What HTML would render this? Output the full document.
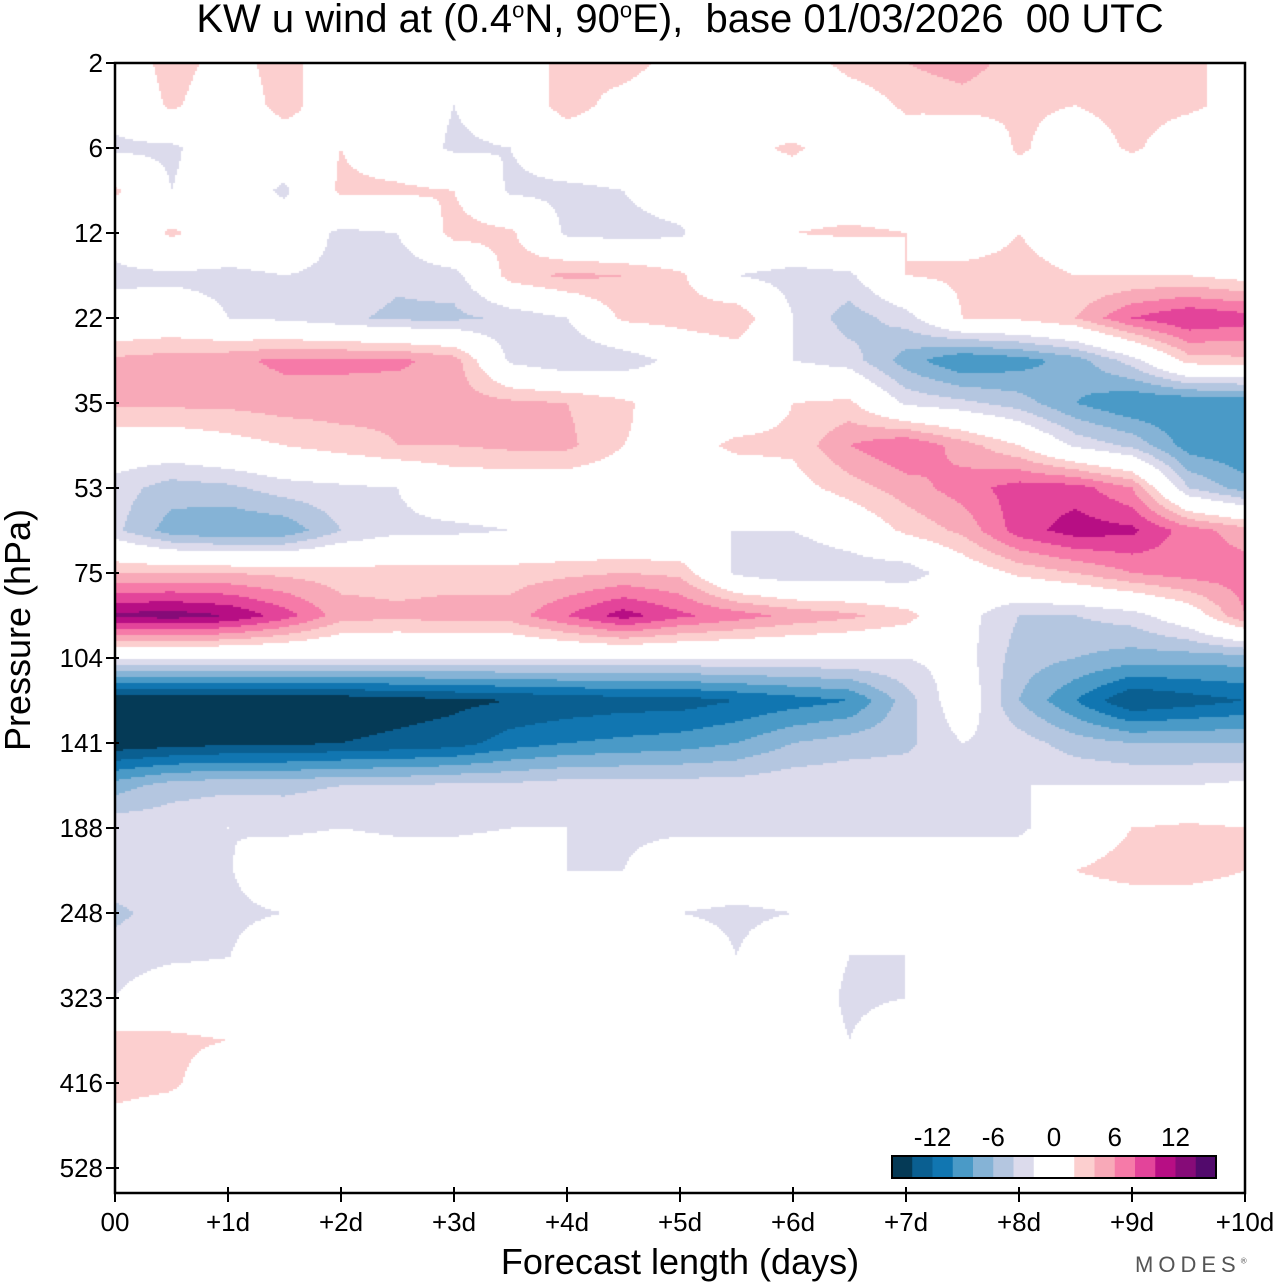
<!DOCTYPE html>
<html><head><meta charset="utf-8">
<style>
body{margin:0;background:#fff;width:1280px;height:1286px;overflow:hidden;position:relative;font-family:"Liberation Sans",sans-serif;}
.t{position:absolute;white-space:nowrap;color:#000;}
</style></head>
<body>
<div class="t" style="left:0;width:1360px;text-align:center;top:-3px;font-size:40px;">KW u wind at (0.4<sup style="font-size:22px">o</sup>N, 90<sup style="font-size:22px">o</sup>E),&nbsp; base 01/03/2026&nbsp; 00 UTC</div>
<canvas id="cv" width="1130" height="1130" style="position:absolute;left:115px;top:63px;"></canvas>
<svg id="ov" width="1280" height="1286" style="position:absolute;left:0;top:0"></svg>
<div class="t" style="left:18px;top:630px;font-size:36px;transform:translate(-50%,-50%) rotate(-90deg);">Pressure (hPa)</div>
<div class="t" style="left:680px;top:1262px;font-size:36px;transform:translate(-50%,-50%);">Forecast length (days)</div>
<div class="t" style="left:1135px;top:1252px;font-size:22px;letter-spacing:5px;color:#555;">MODES<sup style="font-size:8px">®</sup></div>
<script>
const timeLabels=["00","+1d","+2d","+3d","+4d","+5d","+6d","+7d","+8d","+9d","+10d"];
const pressureLabels=["2","6","12","22","35","53","75","104","141","188","248","323","416","528"];
const levels=[-16,-14,-12,-10,-8,-6,-4,-2,2,4,6,8,10,12,14,16];
const colors=["#053a56","#0a5f91","#1176b1","#4a9ac7","#85b3d6","#b4c6e0","#dcdbec","#ffffff","#fccfcf","#f8a9b8","#f67aa8","#e3449a","#b70e84","#860b78","#520a6c"];
const cbarLabels=["-12","-6","0","6","12"];
const cbarValues=[-12,-6,0,6,12];
// rows: half pressure-tick steps from 2 hPa downward; columns: half-day steps 0..10
const r00=[0,3,1,3,0,2,0,1,2.5,3,1,1,0,3,4,5,3,4,3,2,2];
const r01=[-1,2.5,0,3,0,0,-2,0,3,1,0,0,-1,0,2.5,3,2.5,2,3,2.5,1];
const r02=[-2.5,-2.5,0,0,2,0,-2.5,-2,0,0,0,1,2.5,0,0,-2,2.5,0,2.5,0,0];
const r03=[2.5,-2,0,-2.5,2.5,2.5,2,-2.5,-2.5,-2,0,0,0,0,0,0,0,0,-2,0,0];
const r04=[-1,2.5,0,0,-2.5,-2,3,2.5,-2.5,-3,-2.5,2,2,2.5,2,1,2,1,1,1,0];
const r05=[-2.5,-2.5,-2.5,-2,-2.5,-3.5,-3,3,4.5,4,2.5,-2,-3,-2.5,2,2.5,2.5,2,2,2,1];
const r06=[-1,-0.5,-2,-2.5,-3.5,-4.5,-4.5,-3.5,-2,2.5,3,4,-2,-5,-3,2,2.5,4,8,10,9];
const r07=[4.5,5,5.5,6.5,6.5,6.5,5,-2.5,-4,-3.5,-1,0,-2,-3,-7,-10,-9,-7,-3,3,3.5];
const r08=[4.5,4.5,4.5,5,5,4.5,5,4.5,4,2.5,0,0,2,2.5,-2.5,-3.5,-5,-8,-10,-10,-10];
const r09=[0,0,1,2,3,4,4,4.5,4.5,2,1,2.5,2.5,6,8,5,2,-2.5,-4.5,-9,-10];
const r10=[-3,-5,-4.5,-3,-2.5,-2,0,0,0,0,0,0,1,3,5,7,9,9,6,-4,-7];
const r11=[-3.5,-7,-8,-7.5,-4,-2.5,-2.5,-2,-2,-2,-2,-2,-2,-0.5,2.5,4.5,9,11,10.5,7,5];
const r12=[4,4,4,3.5,3,3,3,3,3.5,4,3.5,-2.5,-4,-3.5,-3.5,0,2.5,4,6,7,7];
const r13=[12.5,13,12,9,5,4.5,5,5,8,11,8.5,7,5.5,4.5,3,-1,-4,-4,-3,0,6];
const r14=[-2,-2,-2,-2,-2,-2,-2,-2,-2,-2,-2,-2,-2,-2,-2,-1,-5,-6,-7,-7,-7];
const r15=[-16,-16,-16,-16,-15.5,-15,-14.5,-14,-13.5,-13,-13,-12,-11,-10,-5,0,-6,-10,-14,-13,-12];
const r16=[-15.5,-15,-14.5,-14.5,-14,-13.5,-13,-11,-10,-9.5,-9,-8,-6,-5,-4.5,-2,-3,-5,-6,-6,-6];
const r17=[-7,-5,-4.5,-4.5,-4,-4,-3.5,-3.5,-3,-3,-3,-3,-2.5,-2.5,-2.5,-2,-2,-2,-2,-2,-1.5];
const r18=[-2.5,-2.5,-2,-2.5,-2,-2.5,-2.5,-2,-2,-2.5,-2.5,-2.5,-2.5,-2.5,-2.5,-2.5,-2.5,0,2,2.5,2];
const r19=[-2.5,-2.5,-2.2,0,0,0,0,0,-2,-2,0,0,0,0,0,0,0,2,3,3,2];
const r20=[-4.5,-3,-2.5,-2,0,0,0,0,0,0,-2,-2.5,-2,0,0,0,0,0,0,0,0];
const r21=[-3,-2.5,-2.1,0,0,0,0,0,0,0,0,-2,0,-2,-2,0,0,0,0,0,0];
const r22=[-2,0,0,0,0,0,0,0,0,0,0,0,0,-2.5,-2,0,0,0,0,0,0];
const r23=[3,2.5,2,0,0,0,0,0,0,0,0,0,0,-2,0,0,0,0,0,0,0];
const r24=[3,2.5,0,0,0,0,0,0,0,0,0,0,0,0,0,0,0,0,0,0,0];
const r25=[1,0,0,0,0,0,0,0,0,0,0,0,0,0,0,0,0,0,0,0,0];
const r26=[0,0,0,0,0,0,0,0,0,0,0,0,0,0,0,0,0,0,0,0,0];
const r27=[0,0,0,0,0,0,0,0,0,0,0,0,0,0,0,0,0,0,0,0,0];
const grid=[r00,r01,r02,r03,r04,r05,r06,r07,r08,r09,r10,r11,r12,r13,r14,r15,r16,r17,r18,r19,r20,r21,r22,r23,r24,r25,r26,r27];

const X0=115,X1=1245,Y0=63,Y1=1193;
const xScale=d=>X0+(X1-X0)*d/10;
const yScale=k=>Y0+85*k;
const rowY=i=>yScale(i/2), colX=j=>xScale(j/2);
function colorFor(v){for(let k=0;k<levels.length-1;k++){if(v<levels[k+1])return colors[k];}return colors[colors.length-1];}
function sample(px,py){
  const fj=(px-X0)/(colX(1)-colX(0)), fi=(py-Y0)/(rowY(1)-rowY(0));
  let j=Math.min(Math.max(Math.floor(fj),0),grid[0].length-2), i=Math.min(Math.max(Math.floor(fi),0),grid.length-2);
  const tx=Math.min(Math.max(fj-j,0),1), ty=Math.min(Math.max(fi-i,0),1);
  const a=grid[i][j],b=grid[i][j+1],c=grid[i+1][j],d=grid[i+1][j+1];
  return a*(1-tx)*(1-ty)+b*tx*(1-ty)+c*(1-tx)*ty+d*tx*ty;
}
const cv=document.getElementById('cv'),ctx=cv.getContext('2d');
const S=2;
for(let y=0;y<1130;y+=S){for(let x=0;x<1130;x+=S){const v=sample(X0+x+S/2,Y0+y+S/2);const c=colorFor(v);if(c!=="#ffffff"){ctx.fillStyle=c;ctx.fillRect(x,y,S,S);}}}

const NS='http://www.w3.org/2000/svg',ov=document.getElementById('ov');
function mk(tag,attrs,parent){const e=document.createElementNS(NS,tag);for(const k in attrs)e.setAttribute(k,attrs[k]);(parent||ov).appendChild(e);return e;}
const frame=mk('rect',{x:X0,y:Y0,width:X1-X0,height:Y1-Y0,fill:'none',stroke:'#000','stroke-width':2.5});


pressureLabels.forEach((p,k)=>{
  const y=yScale(k);
  const tk=mk('line',{x1:X0-9,x2:X0+4,y1:y,y2:y,stroke:'#000','stroke-width':2});
  
  
  const t=mk('text',{x:X0-12,y:y+9,'text-anchor':'end','font-size':26,'font-family':'Liberation Sans, sans-serif'});
  t.textContent=p;
  
  
});
timeLabels.forEach((l,d)=>{
  const x=xScale(d);
  const tk=mk('line',{x1:x,x2:x,y1:Y1-6,y2:Y1+9,stroke:'#000','stroke-width':2});
  
  
  const t=mk('text',{x:x,y:Y1+38,'text-anchor':'middle','font-size':26,'font-family':'Liberation Sans, sans-serif'});
  t.textContent=l;
  
  
});
const CB0=892,CB1=1216,CBY=1156,CBH=22,nB=16,bw=(CB1-CB0)/nB;
const slotColors=colors.slice(0,7).concat(["#ffffff","#ffffff"]).concat(colors.slice(8));
slotColors.forEach((c,k)=>{
  const r=mk('rect',{x:CB0+k*bw,y:CBY,width:bw+0.5,height:CBH,fill:c});
  
  
});
const cbf=mk('rect',{x:CB0,y:CBY,width:CB1-CB0,height:CBH,fill:'none',stroke:'#000','stroke-width':2});


const cbx=v=>CB0+(v+16)/2*bw;
cbarLabels.forEach((l,k)=>{
  const t=mk('text',{x:cbx(cbarValues[k]),y:CBY-10,'text-anchor':'middle','font-size':26,'font-family':'Liberation Sans, sans-serif'});
  t.textContent=l;
  
  
});
</script>
</body></html>
